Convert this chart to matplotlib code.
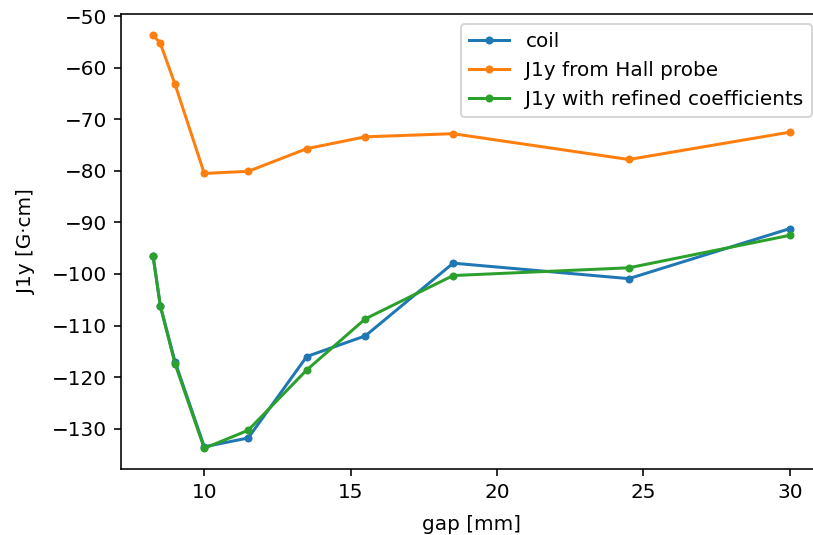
import matplotlib
matplotlib.use("Agg")
import matplotlib.pyplot as plt

gap = [8.25, 8.5, 9, 10, 11.5, 13.5, 15.5, 18.5, 24.5, 30]
coil = [-96.5, -106.2, -117.0, -133.5, -131.8, -116.0, -112.0, -97.9, -100.9, -91.2]
hall = [-53.6, -55.3, -63.2, -80.5, -80.1, -75.7, -73.4, -72.8, -77.8, -72.5]
refined = [-96.5, -106.2, -117.4, -133.8, -130.3, -118.6, -108.7, -100.3, -98.8, -92.5]

fig = plt.figure(figsize=(813 / 144, 535 / 144), dpi=144)
ax = fig.add_axes([121.2 / 813, 66 / 535, 700.5 / 813, 455 / 535])
ax.plot(gap, coil, '.-', label='coil')
ax.plot(gap, hall, '.-', label='J1y from Hall probe')
ax.plot(gap, refined, '.-', label='J1y with refined coefficients')
ax.set_xlabel('gap [mm]', labelpad=6.5)
ax.set_ylabel('J1y [G·cm]', labelpad=8)
ax.spines['right'].set_visible(False)
ax.legend(loc='upper right')
fig.savefig('out.png', dpi=144)
